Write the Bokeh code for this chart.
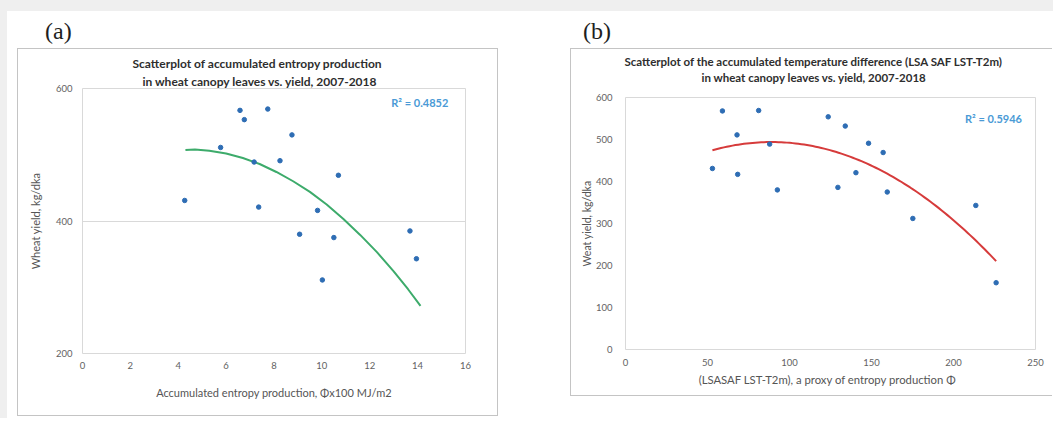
import numpy as np
from bokeh.plotting import figure
from bokeh.models import Label, FixedTicker, Range1d, Title, Div, Spacer
from bokeh.layouts import row, column
from bokeh.embed import file_html
from bokeh.resources import INLINE

# ---------------- data ----------------
# Panel (a): accumulated entropy production (x100 MJ/m2) vs wheat yield (kg/dka)
a_entropy = [4.27, 5.77, 6.58, 6.76, 7.74, 7.17, 7.36, 8.25, 8.75, 9.07, 9.82, 10.02, 10.50, 10.69, 13.68, 13.95]
a_yield = [431, 511, 567, 553, 569, 489, 421, 491, 530, 380, 416, 311, 375, 469, 385, 343]
# polynomial trend line of panel (a)
a_trend_x = [4.3, 4.7, 5.3, 6.0, 6.7, 7.4, 8.1, 8.8, 9.5, 10.2, 10.9, 11.6, 12.3, 13.0, 13.6, 14.12]
a_trend_y = [507, 508, 506, 502, 495, 486, 474, 460, 444, 425, 403, 379, 353, 324, 297, 272]
a_xticks = [0, 2, 4, 6, 8, 10, 12, 14, 16]
a_yticks = [200, 400, 600]
a_title = ["Scatterplot of accumulated entropy production",
           "in wheat canopy leaves vs. yield, 2007-2018"]
a_r2 = "R\u00b2 = 0.4852"

# Panel (b): accumulated temperature difference (LSA SAF LST-T2m) vs wheat yield
b_diff = [53.0, 59.1, 68.0, 68.4, 81.2, 87.9, 92.6, 123.6, 129.5, 134.0, 140.5, 148.2, 157.1, 159.6, 175.2, 213.6, 226.0]
b_yield = [431, 568, 511, 417, 569, 489, 380, 554, 386, 532, 421, 491, 469, 375, 312, 343, 159]
b_xticks = [0, 50, 100, 150, 200, 250]
b_yticks = [0, 100, 200, 300, 400, 500, 600]
b_title = ["Scatterplot of the accumulated temperature difference (LSA SAF LST-T2m)",
           "in wheat canopy leaves vs. yield, 2007-2018"]
b_r2 = "R\u00b2 = 0.5946"

FONT = "Lato"
BOX = "#c4c4c4"


def base_fig(width, height, xr, yr, xticks, yticks, left, right, top, bottom):
    p = figure(width=width, height=height, x_range=Range1d(*xr), y_range=Range1d(*yr),
               output_backend="svg", toolbar_location=None,
               min_border_left=left, min_border_right=right,
               min_border_top=top, min_border_bottom=bottom)
    p.background_fill_color = "white"
    p.border_fill_color = "white"
    p.outline_line_color = "#d9d9d9"
    p.outline_line_width = 1
    p.xaxis.ticker = FixedTicker(ticks=xticks)
    p.yaxis.ticker = FixedTicker(ticks=yticks)
    for ax in (p.xaxis, p.yaxis):
        ax.axis_line_color = None
        ax.major_tick_line_color = None
        ax.minor_tick_line_color = None
        ax.major_tick_out = 0
        ax.major_tick_in = 0
        ax.major_label_text_font = FONT
        ax.major_label_text_font_size = "9.5px"
        ax.major_label_text_color = "#626262"
        ax.axis_label_text_font = FONT
        ax.axis_label_text_font_style = "normal"
        ax.axis_label_text_color = "#555555"
    p.xgrid.grid_line_color = None
    p.ygrid.grid_line_color = None
    return p


def title_kw(size):
    return dict(text_font=FONT, text_font_size=size, text_font_style="bold",
                text_color="#2e2e2e", align="left")


def titles(p, lines, size, off1, off2, s1, s2, gap=None):
    # stacked from the frame outwards: (gap), line 2, line 1 (= p.title)
    if gap is not None:
        p.add_layout(Title(text=" ", text_font_size="1px", standoff=gap), "above")
    p.add_layout(Title(text=lines[1], offset=off2, standoff=s2, **title_kw(size)), "above")
    p.title.text = lines[0]
    p.title.offset = off1
    p.title.standoff = s1
    for k, v in title_kw(size).items():
        setattr(p.title, k, v)


def panel_label(text, width, pad_left):
    return Div(text=('<div style="padding:19px 0 0 %dpx;font-family:\'Liberation Serif\';'
                     'font-size:24px;line-height:24px;color:#1e1e1e">%s</div>') % (pad_left, text),
               width=width, height=48, margin=0)


# ---------------- panel (a) ----------------
pa = base_fig(481, 368, (0, 16), (200, 600), a_xticks, a_yticks, 64, 34, 39, 64)
pa.styles = {"border": "1px solid " + BOX}
pa.ygrid.grid_line_color = "#d9d9d9"
pa.xaxis.axis_label = "Accumulated entropy production, \u03a6x100 MJ/m2"
pa.yaxis.axis_label = "Wheat yield, kg/dka"
pa.xaxis.axis_label_text_font_size = "11px"
pa.yaxis.axis_label_text_font_size = "11px"
pa.xaxis.major_label_standoff = 8
pa.yaxis.major_label_standoff = 10
pa.xaxis.axis_label_standoff = 14
pa.yaxis.axis_label_standoff = 11
titles(pa, a_title, "12px", 50, 60, 2, 0)

pa.line(a_trend_x, a_trend_y, line_color="#3dab6b", line_width=2)
pa.scatter(a_entropy, a_yield, size=4.5, color="#2e6db4")
pa.add_layout(Label(x=12.9, y=579, text=a_r2, text_align="left", text_baseline="middle",
                    text_font=FONT, text_font_size="11px", text_font_style="bold",
                    text_color="#4a9ad6"))

# ---------------- panel (b) ----------------
pb = base_fig(482, 348, (0, 250), (0, 600), b_xticks, b_yticks, 54, 18, 48, 48)
pb.styles = {"border-left": "1px solid " + BOX, "border-top": "1px solid " + BOX,
             "border-bottom": "1px solid " + BOX}
pb.xaxis.axis_label = "(LSASAF LST-T2m), a  proxy of  entropy production \u03a6"
pb.yaxis.axis_label = "Weat yield, kg/dka"
pb.xaxis.axis_label_text_font_size = "11.3px"
pb.yaxis.axis_label_text_font_size = "10.5px"
pb.xaxis.major_label_standoff = 9
pb.yaxis.major_label_standoff = 13
pb.xaxis.axis_label_standoff = 4
pb.yaxis.axis_label_standoff = 0
titles(pb, b_title, "11.5px", -1, 76, 0, 2, gap=10)

cb = np.polyfit(b_diff, b_yield, 2)
xb = np.linspace(min(b_diff), max(b_diff), 100)
pb.line(xb, np.polyval(cb, xb), line_color="#d63b3b", line_width=2)
pb.scatter(b_diff, b_yield, size=4.5, color="#2e6db4")
pb.add_layout(Label(x=207, y=550, text=b_r2, text_align="left", text_baseline="middle",
                    text_font=FONT, text_font_size="11px", text_font_style="bold",
                    text_color="#4a9ad6"))

layout = row(
    Spacer(width=17, height=418),
    column(panel_label("(a)", 483, 28), pa),
    Spacer(width=70, height=418),
    column(panel_label("(b)", 483, 13), pb),
    styles={"background": "linear-gradient(to right, #efefef 7px, transparent 7px), "
                          "linear-gradient(#efefef 11px, #ffffff 11px)"},
)
open("out.html", "w").write(file_html(layout, INLINE))
